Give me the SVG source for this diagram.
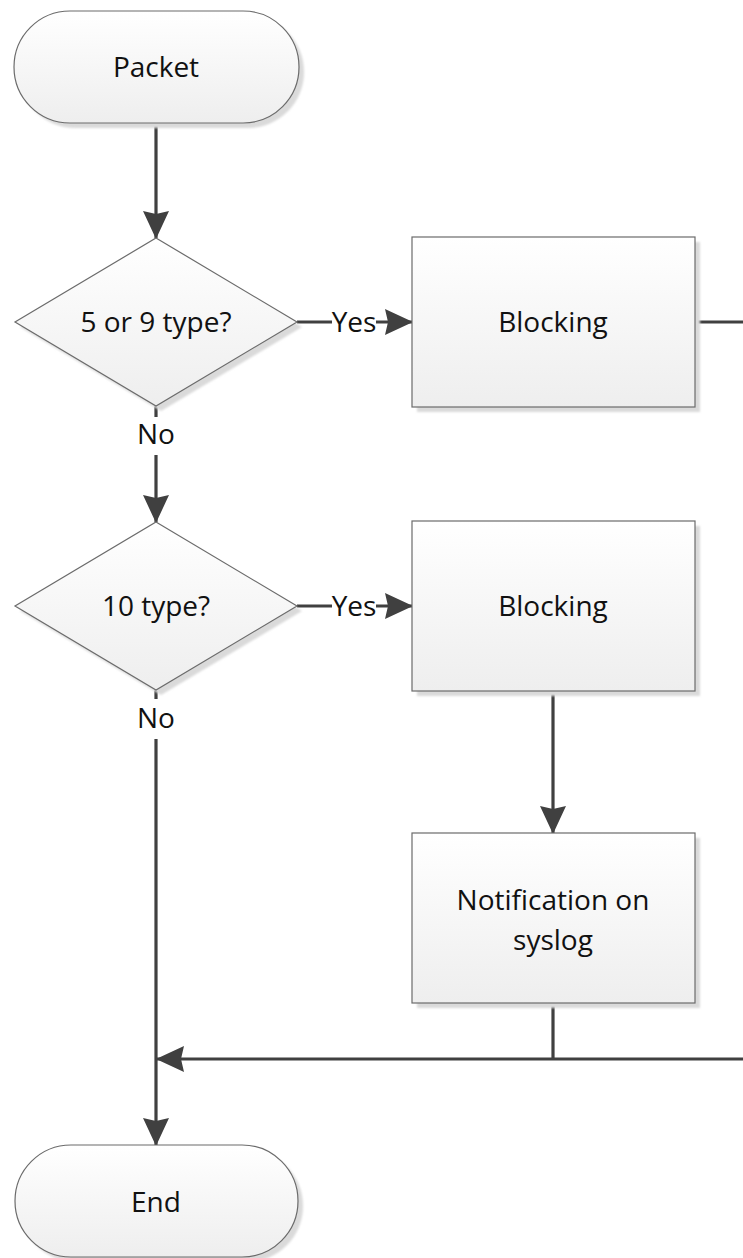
<svg xmlns="http://www.w3.org/2000/svg" width="743" height="1258" viewBox="0 0 743 1258">
  <style>
    .shape { fill: url(#bodyFill); stroke: #6b6b6b; stroke-width: 1.2; }
    .shadow { fill: #dadada; filter: url(#soft); }
    .label { font-family: "Open Sans", "Liberation Sans", sans-serif; font-size: 28px; fill: #111111; text-anchor: middle; }
    .edge { fill: none; stroke: #404040; stroke-width: 3.2; }
  </style>
  <defs>
    <linearGradient id="bodyFill" x1="0" y1="0" x2="0" y2="1">
      <stop offset="0" stop-color="#ffffff"/>
      <stop offset="1" stop-color="#eeeeee"/>
    </linearGradient>
    <filter id="soft" x="-5%" y="-5%" width="110%" height="110%">
      <feGaussianBlur stdDeviation="1.2"/>
    </filter>
    <marker id="arrow" markerUnits="userSpaceOnUse" viewBox="0 0 28 26" markerWidth="28" markerHeight="26" refX="27" refY="13" orient="auto">
      <path d="M0,0 L28,13 L0,26 L3,13 z" fill="#404040"/>
    </marker>
  </defs>
  <rect width="743" height="1258" fill="#ffffff"/>

  <!-- connectors -->
  <g id="connectors">
    <path class="edge" d="M156 123 V238" marker-end="url(#arrow)"/>
    <path class="edge" d="M297 322 H332"/>
    <path class="edge" d="M376 322 H412" marker-end="url(#arrow)"/>
    <path class="edge" d="M156 406 V417"/>
    <path class="edge" d="M156 455 V522" marker-end="url(#arrow)"/>
    <path class="edge" d="M297 606 H332"/>
    <path class="edge" d="M376 606 H412" marker-end="url(#arrow)"/>
    <path class="edge" d="M156 690 V699"/>
    <path class="edge" d="M156 739 V1145" marker-end="url(#arrow)"/>
    <path class="edge" d="M553 691 V833" marker-end="url(#arrow)"/>
    <path class="edge" d="M553 1003 V1059"/>
    <path class="edge" d="M695 322 H743"/>
    <path class="edge" d="M743 1059 H157" marker-end="url(#arrow)"/>
    <text class="label" x="354" y="332">Yes</text>
    <text class="label" x="354" y="616">Yes</text>
    <text class="label" x="156" y="444">No</text>
    <text class="label" x="156" y="728">No</text>
  </g>

  <g id="packet">
    <rect class="shadow" x="19" y="16" width="285" height="112" rx="56"/>
    <rect class="shape" x="14" y="11" width="285" height="112" rx="56"/>
    <text class="label" x="156" y="77">Packet</text>
  </g>

  <g id="decision-5-9">
    <polygon class="shadow" points="161,243 302,327 161,411 20,327"/>
    <polygon class="shape" points="156,238 297,322 156,406 15,322"/>
    <text class="label" x="156" y="332">5 or 9 type?</text>
  </g>

  <g id="blocking-1">
    <rect class="shadow" x="417" y="242" width="283" height="170"/>
    <rect class="shape" x="412" y="237" width="283" height="170"/>
    <text class="label" x="553" y="332">Blocking</text>
  </g>

  <g id="decision-10">
    <polygon class="shadow" points="161,527 302,611 161,695 20,611"/>
    <polygon class="shape" points="156,522 297,606 156,690 15,606"/>
    <text class="label" x="156" y="616">10 type?</text>
  </g>

  <g id="blocking-2">
    <rect class="shadow" x="417" y="526" width="283" height="170"/>
    <rect class="shape" x="412" y="521" width="283" height="170"/>
    <text class="label" x="553" y="616">Blocking</text>
  </g>

  <g id="notification">
    <rect class="shadow" x="417" y="838" width="283" height="170"/>
    <rect class="shape" x="412" y="833" width="283" height="170"/>
    <text class="label" x="553" y="910">Notification on</text>
    <text class="label" x="553" y="950">syslog</text>
  </g>

  <g id="end">
    <rect class="shadow" x="20" y="1150" width="283" height="112" rx="56"/>
    <rect class="shape" x="15" y="1145" width="283" height="112" rx="56"/>
    <text class="label" x="156" y="1212">End</text>
  </g>
</svg>
